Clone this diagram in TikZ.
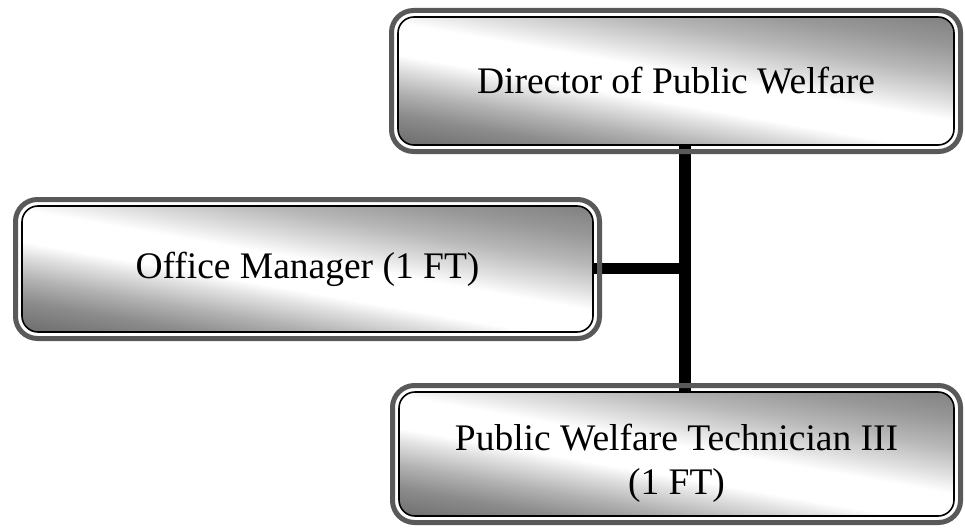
\documentclass[tikz,border=0pt]{standalone}
\usepackage{fontspec}
\setmainfont{Liberation Serif}
\usetikzlibrary{backgrounds}
\pgfdeclareverticalshading{wband}{100bp}{color(0bp)=(black!58); color(25bp)=(black!58); color(32bp)=(black!45); color(37bp)=(black!30); color(42bp)=(black!12); color(45bp)=(white); color(52bp)=(white); color(56bp)=(black!12); color(62bp)=(black!28); color(68bp)=(black!40); color(75bp)=(black!50); color(100bp)=(black!50)}
\begin{document}
\begin{tikzpicture}[x=1pt,y=-1pt,
  boxout/.style={draw=black!65, line width=5pt, rounded corners=22pt, inner sep=0pt, outer sep=0pt},
  boxin/.style={draw=black, line width=1.6pt, rounded corners=16pt,
    inner sep=0pt, outer sep=0pt, align=center, font=\fontsize{37.5}{44}\selectfont,
    path picture={
      \begin{scope}[transform canvas={rotate around={-10:(path picture bounding box.center)}}]
        \shade[shading=wband] ([shift={(-420pt,-112pt)}]path picture bounding box.center)
          rectangle ([shift={(420pt,112pt)}]path picture bounding box.center);
      \end{scope}}},
  conn/.style={line width=12pt, black}]
\useasboundingbox (0,0) rectangle (965,527);
% Director
\node[boxout, minimum width=569pt, minimum height=141pt] (dO) at (676,81) {};
\node[boxin, minimum width=556pt, minimum height=128pt] (d) at (676,81) {Director of Public Welfare};
% Office Manager
\node[boxout, minimum width=584pt, minimum height=139pt] (oO) at (307.5,269) {};
\node[boxin, minimum width=571pt, minimum height=126pt] (o) at (307.5,269) {Office Manager (1 FT)};
% Technician
\node[boxout, minimum width=568pt, minimum height=137pt] (tO) at (676.5,454) {};
\node[boxin, minimum width=555pt, minimum height=124pt] (t) at (676.5,454) {\rule{0pt}{44pt}Public Welfare Technician III\\(1 FT)};
\coordinate (jn) at (685,268.5);
\begin{scope}[on background layer]
  \draw[conn] (d.south -| jn) -- (t.north -| jn);
  \draw[conn, line width=11pt] (o.east |- jn) -- (jn);
\end{scope}
\end{tikzpicture}
\end{document}
